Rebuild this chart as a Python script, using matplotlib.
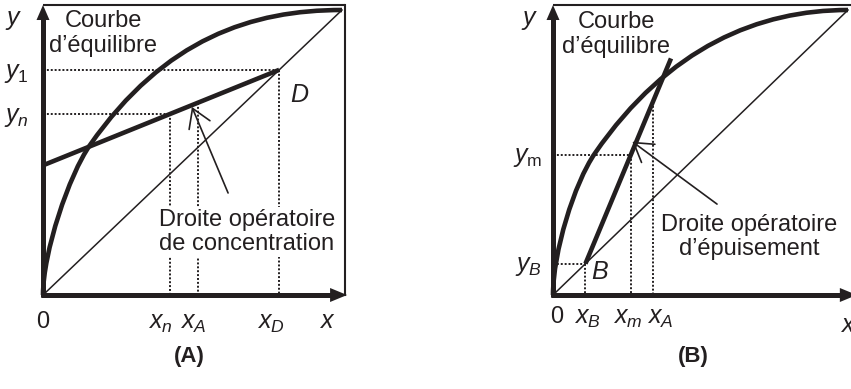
import numpy as np
import matplotlib.pyplot as plt
from matplotlib.path import Path
from matplotlib.patches import PathPatch

plt.rcParams['font.family'] = 'Liberation Sans'
plt.rcParams['mathtext.fontset'] = 'custom'
plt.rcParams['mathtext.rm'] = 'Liberation Sans'
plt.rcParams['mathtext.it'] = 'Liberation Sans:italic'
plt.rcParams['mathtext.bf'] = 'Liberation Sans:bold'

ink = '#231f20'
fs = 17
fs_lab = 18

# equilibrium curves as two cubic Bezier pieces (control points, x and y)
eq_ctrl_A = [(0, 0), (0, 0.15), (0.087, 0.421), (0.157, 0.526),
             (0.407, 0.901), (0.7, 1.0), (1.0, 1.0)]
eq_ctrl_B = [(0, 0), (0, 0.15), (0.072, 0.392), (0.142, 0.497),
             (0.392, 0.872), (0.7, 1.0), (1.0, 1.0)]

# (A) concentration section
op_x_A = [0.0, 0.79]
op_y_A = [0.455, 0.79]
x_D, y_1 = 0.79, 0.79
x_n, y_n = 0.425, 0.635
x_A1 = 0.518
arrow_A = [(0.619, 0.358), (0.498, 0.66)]

# (B) stripping section
op_x_B = [0.11, 0.40]
op_y_B = [0.11, 0.83]
x_B, y_B = 0.11, 0.11
x_m, y_m = 0.263, 0.49
x_A2 = 0.338
arrow_B = [(0.556, 0.319), (0.269, 0.538)]

W, H = 851, 389
fig = plt.figure(figsize=(W / 100, H / 100), dpi=100)


def panel(x0, x1, y0, y1):
    ax = fig.add_axes([x0 / W, (H - y0) / H, (x1 - x0) / W, (y0 - y1) / H])
    ax.set_xlim(0, 1)
    ax.set_ylim(0, 1)
    ax.axis('off')
    return ax


def frame(ax, sx, sy, x_tip, x_right=None):
    top = 1.0175
    ax.plot([0, x_right if x_right else 1.2], [top, top], color=ink, lw=1.5,
            clip_on=False, solid_capstyle='butt')
    if x_right:
        ax.plot([x_right, x_right], [top, 0], color=ink, lw=1.5, clip_on=False)
    # axes with filled heads
    ax.plot([0, 0], [-2 / sy, top - 10 / sy], color=ink, lw=3.6, clip_on=False,
            solid_capstyle='butt')
    ax.fill([-6.5 / sx, 6.5 / sx, 0], [top - 15 / sy, top - 15 / sy, top],
            color=ink, lw=0, clip_on=False)
    ax.plot([-2 / sx, x_tip - 10 / sx], [0, 0], color=ink, lw=3.6,
            clip_on=False, solid_capstyle='butt')
    ax.fill([x_tip - 17 / sx, x_tip - 17 / sx, x_tip],
            [-7 / sy, 7 / sy, 0], color=ink, lw=0, clip_on=False)


def curve(ax, ctrl):
    codes = [Path.MOVETO] + [Path.CURVE4] * (len(ctrl) - 1)
    ax.add_patch(PathPatch(Path(ctrl, codes), fill=False, ec=ink, lw=3.3,
                           capstyle='butt', clip_on=False))


def dotted(ax, xs, ys):
    ax.plot(xs, ys, color=ink, lw=1.4, ls=(0, (1, 1)), clip_on=False,
            dash_capstyle='butt')


def pointer(ax, tail, head):
    ax.annotate('', xy=head, xytext=tail,
                arrowprops=dict(arrowstyle='->,head_length=0.45,head_width=0.28',
                                lw=1.2, color=ink, shrinkA=0, shrinkB=0,
                                mutation_scale=29))


# ---------- (A)
axA = panel(43, 342, 295, 10)
sx, sy = 299, 285
frame(axA, sx, sy, 1.017, x_right=1.01)
axA.plot([0, 1], [0, 1], color=ink, lw=1.1, clip_on=False)
curve(axA, eq_ctrl_A)
axA.plot(op_x_A, op_y_A, color=ink, lw=3.3, clip_on=False, solid_capstyle='butt')
dotted(axA, [0, x_D], [y_1, y_1])
dotted(axA, [x_D, x_D], [y_1, 0])
dotted(axA, [0, x_n], [y_n, y_n])
dotted(axA, [x_n, x_n], [y_n, 0])
dotted(axA, [x_A1, x_A1], [np.interp(x_A1, op_x_A, op_y_A), 0])
pointer(axA, *arrow_A)

axA.text(0.202, 0.918, 'Courbe\nd\u2019\u00e9quilibre', ha='center', va='center',
         fontsize=fs, color=ink, linespacing=1.15)
axA.text(0.682, 0.221, 'Droite op\u00e9ratoire\nde concentration', ha='center',
         va='center', fontsize=fs, color=ink, linespacing=1.15, zorder=4,
         bbox=dict(fc='white', ec='none', pad=1))
axA.text(0.858, 0.702, '$D$', ha='center', va='center', fontsize=fs_lab, color=ink)
axA.text(-0.097, 0.947, '$y$', ha='center', va='baseline', fontsize=fs_lab, color=ink)
for lab, yv in [('$y_1$', y_1), ('$y_n$', y_n)]:
    axA.text(-0.047, yv - 0.028, lab, ha='right', va='baseline', fontsize=fs_lab, color=ink)
axA.text(0, -0.117, '0', ha='center', va='baseline', fontsize=fs, color=ink)
for lab, xv, dx in [('$x_n$', x_n, -10), ('$x_A$', x_A1, -5), ('$x_D$', x_D, -8)]:
    axA.text(xv + dx / sx, -0.117, lab, ha='center', va='baseline', fontsize=fs_lab, color=ink)
axA.text(0.95, -0.117, '$x$', ha='center', va='baseline', fontsize=fs_lab, color=ink)
axA.text(0.49, -0.215, '(A)', ha='center', va='center', fontsize=16,
         fontweight='bold', color=ink)

# ---------- (B)
axB = panel(553, 848, 295, 10)
sx, sy = 295, 285
frame(axB, sx, sy, 1.03)
axB.plot([0, 1], [0, 1], color=ink, lw=1.1, clip_on=False)
curve(axB, eq_ctrl_B)
axB.plot(op_x_B, op_y_B, color=ink, lw=3.3, clip_on=False, solid_capstyle='butt')
dotted(axB, [0, x_B], [y_B, y_B])
dotted(axB, [x_B, x_B], [y_B, 0])
dotted(axB, [0, x_m], [y_m, y_m])
dotted(axB, [x_m, x_m], [y_m, 0])
dotted(axB, [x_A2, x_A2], [np.interp(x_A2, op_x_B, op_y_B), 0])
pointer(axB, *arrow_B)

axB.text(0.214, 0.914, 'Courbe\nd\u2019\u00e9quilibre', ha='center', va='center',
         fontsize=fs, color=ink, linespacing=1.15)
axB.text(0.664, 0.204, 'Droite op\u00e9ratoire\nd\u2019\u00e9puisement', ha='center',
         va='center', fontsize=fs, color=ink, linespacing=1.15)
axB.text(0.159, 0.081, '$B$', ha='center', va='center', fontsize=fs_lab, color=ink)
axB.text(-0.081, 0.947, '$y$', ha='center', va='baseline', fontsize=fs_lab, color=ink)
for lab, yv in [(r'$y_\mathrm{m}$', y_m), ('$y_B$', y_B)]:
    axB.text(-0.037, yv - 0.025, lab, ha='right', va='baseline', fontsize=fs_lab, color=ink)
axB.text(0.014, -0.098, '0', ha='center', va='baseline', fontsize=fs, color=ink)
for lab, xv, dx in [('$x_B$', x_B, 2), ('$x_m$', x_m, -3), ('$x_A$', x_A2, 7)]:
    axB.text(xv + dx / sx, -0.102, lab, ha='center', va='baseline', fontsize=fs_lab, color=ink)
axB.text(1.0, -0.13, '$x$', ha='center', va='baseline', fontsize=fs_lab, color=ink)
axB.text(0.475, -0.215, '(B)', ha='center', va='center', fontsize=16,
         fontweight='bold', color=ink)

fig.savefig('out.png', dpi=100)
